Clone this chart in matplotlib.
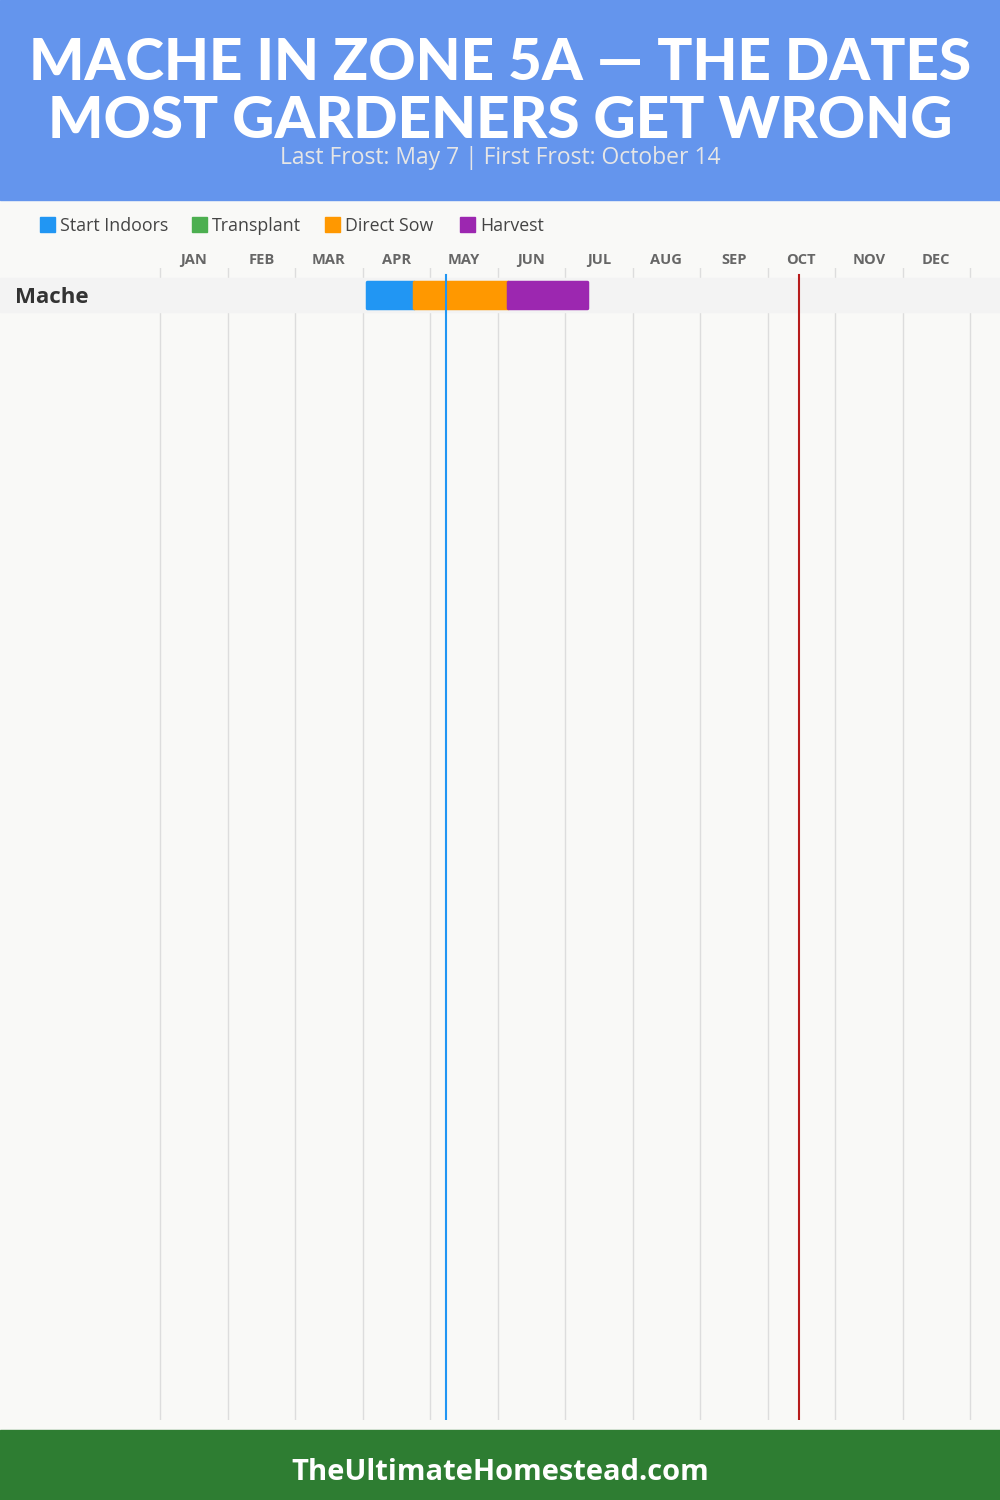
import matplotlib.pyplot as plt
from matplotlib.patches import Rectangle

# Data
months = ["JAN", "FEB", "MAR", "APR", "MAY", "JUN", "JUL", "AUG", "SEP", "OCT", "NOV", "DEC"]
crops = ["Mache"]
phases = ["Start Indoors", "Transplant", "Direct Sow", "Harvest"]
phase_colors = ["#2196F3", "#4CAF50", "#FF9800", "#9C27B0"]
# (phase, start, end) in months from Jan 1
mache_bars = [("Start Indoors", 3.07, 3.76), ("Direct Sow", 3.76, 5.16), ("Harvest", 5.16, 6.33)]
last_frost = 4.24
first_frost = 9.47

W, H = 1000, 1500
fig = plt.figure(figsize=(10, 15), dpi=100)
fig.patch.set_facecolor("#F9F9F7")

def fy(py):
    return 1 - py / H

# header and footer
fig.patches.append(Rectangle((0, fy(200)), 1, 200 / H, transform=fig.transFigure, color="#6495ED", zorder=0))
fig.patches.append(Rectangle((0, 0), 1, 70 / H, transform=fig.transFigure, color="#2E7D32", zorder=0))

fig.text(0.5, fy(63), "MACHE IN ZONE 5A \u2014 THE DATES", ha="center", va="center",
         color="white", fontsize=42, fontweight="black", family="Lato")
fig.text(0.5, fy(122), "MOST GARDENERS GET WRONG", ha="center", va="center",
         color="white", fontsize=42, fontweight="black", family="Lato")
fig.text(0.5, fy(158), "Last Frost: May 7 | First Frost: October 14", ha="center", va="center",
         color="#E6E6E6", fontsize=16.5, family="Open Sans")
fig.text(0.5, fy(1472), "TheUltimateHomestead.com", ha="center", va="center",
         color="white", fontsize=21, fontweight="bold", family="Open Sans")

# legend
leg_x = [40, 192, 325, 460]
for x, name, c in zip(leg_x, phases, phase_colors):
    fig.patches.append(Rectangle((x / W, fy(232)), 15 / W, 15 / H, transform=fig.transFigure, color=c))
    fig.text((x + 20) / W, fy(226), name, ha="left", va="center", color="#444444",
             fontsize=12.8, family="Open Sans")

# chart axes: full width, x in months
px_per_month = 67.5
top_px, bot_px = 268, 1420
ax = fig.add_axes([0, fy(bot_px), 1, (bot_px - top_px) / H])
ax.set_facecolor("none")
ax.set_xlim(-160 / px_per_month, 12 + 30 / px_per_month)
row_h = 34
y_top = -0.5 - (278 - top_px) / row_h
ax.set_ylim(y_top + (bot_px - top_px) / row_h, y_top)
ax.axis("off")

for m in range(13):
    ax.axvline(m, color="#DDDDDD", lw=1, zorder=1)

for i, m in enumerate(months):
    fig.text((160 + (i + 0.5) * px_per_month) / W, fy(260), m, ha="center", va="center",
             color="#666666", fontsize=10.5, fontweight="bold", family="Open Sans")

for r, crop in enumerate(crops):
    ax.axhspan(r - 0.5, r + 0.5, color="#F3F3F3", zorder=2)
    ax.text(-160 / px_per_month + 15 / px_per_month, r + 0.07, crop, ha="left", va="center",
            fontsize=16, fontweight="bold", color="#333333", family="Open Sans")
    for phase, s, e in mache_bars:
        c = phase_colors[phases.index(phase)]
        ax.barh(r, e - s, left=s, height=0.78, color=c, edgecolor=c, lw=2.5,
                joinstyle="round", zorder=3)

frost_top = y_top + (275 - top_px) / row_h
ax.plot([last_frost, last_frost], [frost_top, ax.get_ylim()[0]], color="#2196F3", lw=1.5, zorder=4)
ax.plot([first_frost, first_frost], [frost_top, ax.get_ylim()[0]], color="#B71C1C", lw=1.5, zorder=4)

fig.savefig("out.png", dpi=100, facecolor=fig.get_facecolor())
